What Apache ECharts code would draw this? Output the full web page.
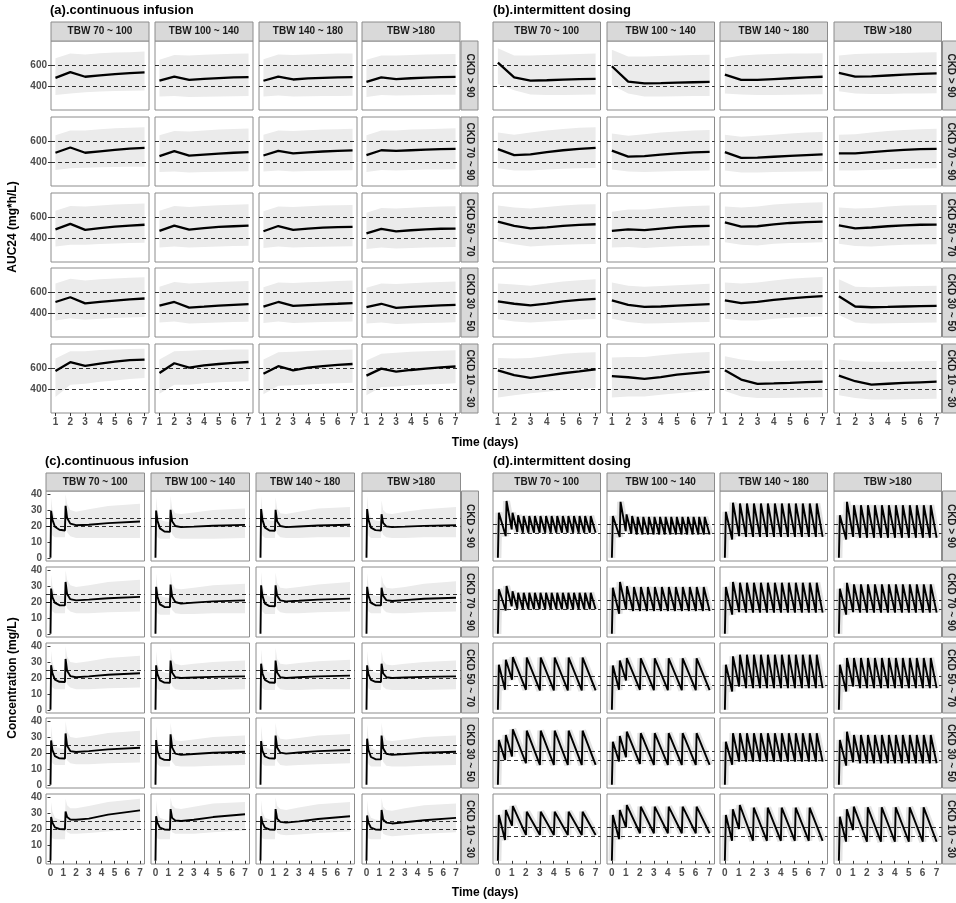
<!DOCTYPE html>
<html>
<head>
<meta charset="utf-8">
<script src="https://cdn.jsdelivr.net/npm/echarts@6/dist/echarts.min.js"></script>
<style>
  html, body { margin: 0; padding: 0; background: #fff; }
  #chart { width: 956px; height: 903px; }
</style>
</head>
<body>
<div id="chart"></div>
<script>
// facet labels
const TBW = ['TBW 70 ~ 100', 'TBW 100 ~ 140', 'TBW 140 ~ 180', 'TBW >180'];
const CKD = ['CKD > 90', 'CKD 70 ~ 90', 'CKD 50 ~ 70', 'CKD 30 ~ 50', 'CKD 10 ~ 30'];

// ---- AUC24 panels (a) and (b): rows = CKD, cols = TBW ----
const AUC_DAYS = [1, 2, 3, 4, 5, 6, 7];
const AUC_X_TICKS = [1, 2, 3, 4, 5, 6, 7];
const AUC_Y_TICKS = [400, 600];
const AUC_TARGET = [400, 600];

const AUC_A_MED = [
  [[478,532,488,502,514,523,530], [452,490,458,468,476,482,485], [450,490,462,472,478,482,484], [440,482,466,474,480,484,486]],
  [[488,538,488,502,515,528,535], [456,503,460,470,480,488,495], [462,505,482,492,500,506,510], [465,512,505,512,518,523,525]],
  [[482,534,478,495,508,518,526], [468,518,480,495,505,512,518], [464,514,478,490,498,503,506], [444,486,464,474,482,488,490]],
  [[505,550,492,505,518,530,538], [470,505,452,460,470,478,485], [460,505,468,475,482,488,495], [455,488,448,458,466,472,478]],
  [[572,655,620,642,660,675,680], [552,645,603,625,638,648,657], [545,617,578,603,617,629,638], [527,594,565,581,594,606,614]]
];
const AUC_A_LO = [
  [[315,330,340,348,352,355,357], [300,305,295,298,300,302,305], [300,310,300,302,305,306,308], [295,315,310,312,315,316,318]],
  [[325,340,345,350,353,355,356], [305,310,300,305,308,310,312], [310,320,310,315,318,320,322], [305,325,320,325,328,330,332]],
  [[320,335,335,342,348,352,355], [310,320,310,315,320,324,326], [305,320,310,314,318,320,322], [295,310,300,305,310,312,315]],
  [[330,350,335,345,352,358,362], [310,320,300,305,310,314,318], [305,320,305,310,315,318,320], [300,310,295,300,305,308,312]],
  [[325,440,450,470,482,495,505], [355,440,440,455,465,470,475], [350,430,435,442,450,455,460], [340,420,425,435,442,448,455]]
];
const AUC_A_HI = [
  [[665,710,700,712,718,722,727], [650,695,690,698,703,707,710], [655,700,695,700,705,708,710], [650,690,690,695,700,702,705]],
  [[655,700,700,712,720,726,731], [655,695,690,700,708,713,718], [660,700,695,702,708,712,716], [655,700,700,708,712,716,720]],
  [[660,705,700,710,718,724,728], [660,705,695,705,712,716,720], [655,700,695,702,708,712,715], [640,685,680,688,695,700,702]],
  [[680,725,710,720,728,735,740], [650,695,680,688,695,700,705], [645,690,685,692,698,704,708], [640,680,675,682,690,695,700]],
  [[690,760,760,770,775,780,782], [680,760,765,770,772,775,775], [680,750,755,762,768,772,775], [670,735,745,755,760,765,768]]
];

const AUC_B_MED = [
  [[622,483,452,455,460,465,468], [588,442,425,428,432,436,440], [508,458,458,466,474,482,488], [525,490,492,500,508,515,520]],
  [[522,466,472,495,512,524,534], [508,452,456,470,482,492,497], [494,440,442,450,458,466,472], [482,482,495,505,515,522,525]],
  [[556,516,492,502,515,525,531], [468,482,476,490,503,512,516], [548,508,512,530,543,552,556], [520,492,500,512,520,526,528]],
  [[510,488,472,490,510,525,535], [520,478,458,462,470,478,485], [520,495,505,525,540,552,560], [560,462,455,458,462,465,468]],
  [[578,532,505,528,550,568,588], [522,512,496,514,536,552,565], [578,490,448,453,459,466,470], [527,474,442,450,458,464,470]]
];
const AUC_B_LO = [
  [[420,360,320,315,315,318,320], [410,330,300,300,302,304,305], [330,320,315,315,318,320,322], [350,330,325,325,328,330,332]],
  [[340,320,320,330,335,340,342], [330,310,305,310,315,318,320], [320,300,300,305,308,310,312], [320,320,325,330,335,338,340]],
  [[370,340,320,328,335,340,342], [310,315,305,315,322,326,330], [360,335,330,345,352,356,360], [345,325,320,330,335,338,340]],
  [[340,320,310,320,330,338,342], [345,315,300,302,308,312,315], [345,330,330,345,355,362,368], [380,310,300,302,305,308,310]],
  [[320,340,360,375,390,400,410], [320,330,330,345,360,375,390], [380,330,315,315,318,320,322], [340,315,300,300,302,305,308]]
];
const AUC_B_HI = [
  [[760,690,690,695,700,705,710], [745,680,680,685,690,695,698], [665,690,700,705,708,710,712], [690,705,710,712,715,718,720]],
  [[680,660,680,700,715,725,730], [670,650,665,680,690,700,705], [660,640,650,660,670,680,685], [660,665,680,695,705,712,716]],
  [[710,690,680,695,710,718,722], [650,670,670,685,698,705,710], [700,690,700,718,728,735,740], [690,680,685,700,708,712,715]],
  [[680,670,660,680,700,712,720], [690,660,650,658,665,672,678], [690,680,690,710,725,735,742], [720,650,645,650,655,658,660]],
  [[695,690,695,715,735,745,750], [700,705,705,720,735,745,752], [712,680,665,665,668,670,672], [680,665,660,660,662,664,666]]
];

// ---- concentration panels ----
const CONC_X_TICKS = [0, 1, 2, 3, 4, 5, 6, 7];
const CONC_Y_TICKS = [0, 10, 20, 30, 40];
const CONC_C_TARGET = [20, 25];
const CONC_D_TARGET = [15, 20];

// (c) continuous infusion, read at these times (days)
const CONC_T = [0, 0.05, 0.15, 0.35, 0.7, 1.13, 1.18, 1.3, 1.55, 2, 3, 4.5, 7];
const CONC_C_MED = [
  [[0,29.5,24,19.5,17.6,17.2,32.7,25,21.5,20.5,20.8,21.8,22.8], [0,29.7,23.5,18.5,16.5,16.3,30.2,23,20,19.3,19.6,20.2,20.7],
   [0,30.6,24,19,17.2,17,30.2,23,20,19.3,19.7,20.3,20.8], [0,30.6,24,19,17.4,17.2,27.4,22,19.8,19.3,19.6,20.1,20.5]],
  [[0,28.4,23,19.5,18,17.9,32.6,25,21.8,21,21.5,22.4,23.2], [0,29.5,23.5,18.5,16.9,16.8,31,23.5,20,19,19.6,20.4,21],
   [0,30.5,24,19,17.4,17.3,30.5,24,21,20.4,20.8,21.5,22.1], [0,29.5,24,19.5,18,17.9,29,24,21.2,20.6,21.2,22,22.7]],
  [[0,28,23,19,17.6,17.5,32,24.5,21.2,20.5,21,22,23], [0,28,22.5,18.5,17.1,17,31,23.5,20.5,20,20.3,20.7,21],
   [0,29,23,18.8,17.2,17,31,23.5,20.5,20,20.5,21,21.5], [0,28,22.5,18.8,17.6,17.5,29,23,20.5,20,20.3,20.7,21]],
  [[0,27.9,22,18,16.6,16.5,32.3,24.5,21.2,20.6,21.2,22.3,23.3], [0,28.1,21.5,17,15.7,15.6,31.7,23.5,19.6,18.8,19.4,20.2,20.8],
   [0,27.5,21.5,17.8,16.6,16.5,31,23.5,20.2,19.6,20.3,21.2,21.9], [0,29,22,17.5,16.1,16,31,23,19.5,18.8,19.4,20.2,20.8]],
  [[0,27.5,24,21,20,19.8,31,27.5,26,25.8,26.5,29,31.7], [0,28,24,20.8,19.7,19.5,32.5,27,25.3,25,25.8,27.5,29.3],
   [0,28,24,20.8,19.7,19.5,32.5,26.5,24.5,24,24.8,26.3,28], [0,28.5,24,20.8,19.7,19.5,32,26,24,23.5,24.2,25.5,27]]
];
const CONC_C_LO = [
  [[0,17,14,13,13,13,20,16,13.5,12.5,12.5,12.5,12.5], [0,17,13,12,12,12,19,15,12.5,12,12,12,12.5],
   [0,18,14,12.5,12.5,12.5,19,15,13,12.5,12.5,13,13], [0,18,14,12.5,12.5,12.5,17,14.5,13,12.5,12.5,13,13]],
  [[0,16.5,14,13,13,13,20,16,14,13,13,13.5,14], [0,17,13,12,12,12,19,15,13,12.5,12.5,13,13],
   [0,18,14,12.5,12.5,12.5,19,15.5,13.5,13,13,13.5,14], [0,17.5,14,13,13,13,18,15.5,13.5,13,13,13.5,14]],
  [[0,16.5,14,13,13,13,20,16,14,13,13,13.5,14], [0,16.5,13,12.5,12.5,12.5,19,15,13,12.5,12.5,12.5,13],
   [0,17,13.5,12.5,12.5,12.5,19,15,13,12.5,12.5,13,13], [0,16.5,13.5,12.5,12.5,12.5,17.5,14.5,13,12.5,12.5,12.5,13]],
  [[0,16.5,13.5,12.5,12.5,12.5,20,15.5,13.5,13,13,13.5,14], [0,16.5,13,11.5,11.5,11.5,19,14.5,12,11.5,11.5,12,12.5],
   [0,16.5,13,12,12,12,19,15,12.5,12,12.5,13,13.5], [0,17,13,11.5,11.5,11.5,19,14.5,12,11.5,11.5,12,12.5]],
  [[0,16.5,14,13.5,13.5,13.5,20,18,17,17,17.5,18.5,20], [0,17,14,13.5,13.5,13.5,21,18,17,17,17,18,19],
   [0,17,14,13.5,13.5,13.5,21,17.5,16.5,16,16.5,17.5,18.5], [0,17,14,13.5,13.5,13.5,20.5,17,16,15.5,16,17,18]]
];
const CONC_C_HI = [
  [[0,38,30,25,24,23.5,40,34,30,29,30.5,32.5,34], [0,38,30,24,23,22.5,39,31,28,27.5,28.5,30,31],
   [0,39,30,25,23.5,23,38,31,28,27.5,29,31,32], [0,39,30,25,23.5,23,36,30,28,27.5,29,30.5,32]],
  [[0,37,30,25,24,23.5,40,34,30.5,29.5,30.5,32.5,34], [0,38,30,24,23,22.5,39,31.5,28.5,28,29,30.5,31.5],
   [0,39,30.5,25,23.5,23,38.5,32,29,28.5,29.5,31,32.5], [0,38,30.5,25,24,23.5,37,32,29,28.5,29.5,31.5,33]],
  [[0,37,30,25,24,23.5,40,33.5,30,29.5,30.5,32.5,34], [0,37,29.5,24.5,23.5,23,39,32,29,28,29,30,31],
   [0,38,30,24.5,23.5,23,39,32,29,28.5,29.5,30.5,31.5], [0,37,30,24.5,23.5,23,37,31,28.5,28,29,30,31]],
  [[0,37,29,24,23,22.5,40,33.5,30,29.5,30.5,32.5,34], [0,37,29,23,22,21.5,39,31.5,28,27.5,28.5,30,31],
   [0,37,29,24,22.5,22,39,32,29,28.5,29.5,31,32], [0,38,29.5,23.5,22,21.5,39,31.5,28,27.5,28.5,30,31]],
  [[0,37,31,27,26,25.5,39,35,33,33,34.5,37,39], [0,38,31,27,26,25.5,40,35,33,32.5,34,36,37],
   [0,38,31,27,26,25.5,40,34.5,32.5,32,33.5,35.5,37], [0,38,31,27,26,25.5,39.5,34,32,31.5,33,35,36]]
];

// (d) intermittent dosing: time of each peak (days) per regimen, and the peak / following trough values
const DOSE_T = {
  A: [0.07,0.62,1.05,1.45,1.85,2.25,2.65,3.05,3.45,3.85,4.25,4.65,5.05,5.45,5.85,6.25,6.65],
  B: [0.07,0.58,1.08,1.58,2.08,2.58,3.08,3.58,4.08,4.58,5.08,5.58,6.08,6.58],
  C: [0.07,0.57,1.07,2.07,3.07,4.07,5.07,6.07]
};
const CONC_D_SCHED = [['A','A','B','B'], ['A','B','B','B'], ['C','C','B','B'], ['C','C','B','B'], ['C','C','C','C']];
const CONC_D_PEAK = [
  [[27,34,27,25.5,25,25,25,25,25,25,25,25,25,25,25,25,25],
   [25,33.5,26,25,24.5,24.5,24.5,24.5,24.5,24.5,24.5,24.5,24.5,24.5,24.5,24.5,24.5],
   [27.5,33,32.5,32.5,32.5,32.5,32.5,32.5,32.5,32.5,32.5,32.5,32.5,32.5],
   [25.5,33.5,31.5,31.5,31.5,31.5,31.5,31.5,31.5,31.5,31.5,31.5,31.5,31.5]],
  [[26.7,28.6,25.5,24.6,24.6,24.6,24.6,24.6,24.6,24.6,24.6,24.6,24.6,24.6,24.6,24.6,24.6],
   [27.6,31,28.5,28,28,28,28,28,28,28,28,28,28,28],
   [28,31,30.6,30.6,30.6,30.6,30.6,30.6,30.6,30.6,30.6,30.6,30.6,30.6],
   [27,30.5,29.6,29.6,29.6,29.6,29.6,29.6,29.6,29.6,29.6,29.6,29.6,29.6]],
  [[27,30,31.5,31.3,31.3,31.3,31.3,31.3],
   [26.5,29.5,31,30.8,30.8,30.8,30.8,30.8],
   [27,32,33,33,33,33,33,33,33,33,33,33,33,33],
   [27,31,31,31,31,31,31,31,31,31,31,31,31,31]],
  [[26.8,29.8,33.2,32.4,32.4,32.4,32.4,32.4],
   [25.8,29.2,31.8,30.9,30.9,30.9,30.9,30.9],
   [25.8,30.9,30.9,30.9,30.9,30.9,30.9,30.9,30.9,30.9,30.9,30.9,30.9,30.9],
   [26.8,31.8,29.8,29.8,29.8,29.8,29.8,29.8,29.8,29.8,29.8,29.8,29.8,29.8]],
  [[27.4,30.4,32.8,29.4,29.4,29.4,29.4,29.4],
   [27.4,30.4,33.4,32.4,32.4,32.4,32.4,32.4],
   [27.4,30.8,33.4,31.8,31.8,31.8,31.8,31.8],
   [26.4,30.8,32.4,32,32,32,32,32]]
];
const CONC_D_TROUGH = [
  [[13,17,15.5,15,15,15,15,15,15,15,15,15,15,15,15,15,15],
   [12.5,16,14.5,14,14,14,14,14,14,14,14,14,14,14,14,14,14],
   [11,13,12.5,12.5,12.5,12.5,12.5,12.5,12.5,12.5,12.5,12.5,12.5,12.5],
   [11,12.5,12,12,12,12,12,12,12,12,12,12,12,12]],
  [[14,16.5,15,14.7,14.7,14.7,14.7,14.7,14.7,14.7,14.7,14.7,14.7,14.7,14.7,14.7,14.7],
   [12,14.5,13.7,13.7,13.7,13.7,13.7,13.7,13.7,13.7,13.7,13.7,13.7,13.7],
   [11.5,13,12.7,12.7,12.7,12.7,12.7,12.7,12.7,12.7,12.7,12.7,12.7,12.7],
   [11.5,13,12.7,12.7,12.7,12.7,12.7,12.7,12.7,12.7,12.7,12.7,12.7,12.7]],
  [[12,18,12,11.6,11.6,11.6,11.6,11.6],
   [12,17.5,12,11.8,11.8,11.8,11.8,11.8],
   [11,14,13,13,13,13,13,13,13,13,13,13,13,13],
   [11,14,13,13,13,13,13,13,13,13,13,13,13,13]],
  [[14.9,16.9,12.9,11.9,11.9,11.9,11.9,11.9],
   [14,16.5,12.5,11.9,11.9,11.9,11.9,11.9],
   [12,13.9,13.9,13.9,13.9,13.9,13.9,13.9,13.9,13.9,13.9,13.9,13.9,13.9],
   [11.5,13.5,12.9,12.9,12.9,12.9,12.9,12.9,12.9,12.9,12.9,12.9,12.9,12.9]],
  [[12.5,21,15.5,15.5,15.5,15.5,15.5,15.5],
   [13,20,16.5,16.5,16.5,16.5,16.5,16.5],
   [12,19,12,12,12,12,12,12],
   [11.5,18.5,11.4,11.4,11.4,11.4,11.4,11.4]]
];

// ---- layout ----
const FONT = '"Liberation Sans", Arial, sans-serif';
const ROWS_TOP = [41, 117, 193, 268, 344];
const ROWS_BOT = [491, 567, 643, 718, 794];
const FIGS = [
  { title: '(a).continuous infusion', tx: 50, ty: 12, lefts: [51, 155, 259, 362], w: 98, tops: ROWS_TOP, h: 69, stripY: 22, yLab: true },
  { title: '(b).intermittent dosing', tx: 493, ty: 12, lefts: [493, 607, 720, 834], w: 107.5, tops: ROWS_TOP, h: 69, stripY: 22, yLab: false },
  { title: '(c).continuous infusion', tx: 45, ty: 463, lefts: [46, 151, 256, 362], w: 98.5, tops: ROWS_BOT, h: 70, stripY: 473, yLab: true },
  { title: '(d).intermittent dosing', tx: 493, ty: 463, lefts: [493, 607, 720, 834], w: 107.5, tops: ROWS_BOT, h: 70, stripY: 473, yLab: false }
];

const grids = [], xAxes = [], yAxes = [], series = [], graphics = [];

function addPanel(fig, r, c, xr, yr, xt, yt) {
  const i = grids.length;
  grids.push({ left: fig.lefts[c], top: fig.tops[r], width: fig.w, height: fig.h, show: true,
    backgroundColor: '#fff', borderColor: '#8c8c8c', borderWidth: 1 });
  const lab = { color: '#4d4d4d', fontWeight: 'bold', fontSize: 10, fontFamily: FONT };
  const showX = r === 4, showY = fig.yLab && c === 0;
  xAxes.push({ gridIndex: i, type: 'value', min: xr[0], max: xr[1],
    axisLine: { show: false }, splitLine: { show: false },
    axisTick: { show: showX, length: 3, customValues: xt, lineStyle: { color: '#333' } },
    axisLabel: Object.assign({ show: showX, margin: 4, customValues: xt }, lab) });
  yAxes.push({ gridIndex: i, type: 'value', min: yr[0], max: yr[1],
    axisLine: { show: false }, splitLine: { show: false },
    axisTick: { show: showY, length: 3, customValues: yt, lineStyle: { color: '#333' } },
    axisLabel: Object.assign({ show: showY, margin: 4, customValues: yt }, lab) });
  return i;
}

function targetLines(vals) {
  return { silent: true, symbol: 'none', label: { show: false }, animation: false,
    lineStyle: { type: [4, 3], color: '#000', width: 0.8 },
    data: vals.map(v => ({ yAxis: v })) };
}

// grey interval band: one polygon through the lower points and back along the upper points
function bandSeries(i, xs, lo, hi) {
  series.push({
    type: 'custom', coordinateSystem: 'cartesian2d', xAxisIndex: i, yAxisIndex: i, silent: true,
    data: xs.map((x, k) => [x, lo[k], hi[k]]),
    encode: { x: 0, y: [1, 2] },
    renderItem: (params, api) => {
      if (params.dataIndex !== 0) return null;
      const pts = [];
      xs.forEach((x, k) => pts.push(api.coord([x, lo[k]])));
      for (let k = xs.length - 1; k >= 0; k--) pts.push(api.coord([xs[k], hi[k]]));
      return { type: 'polygon', shape: { points: pts }, style: { fill: '#ebebeb', stroke: null } };
    }
  });
}

// (a), (b)
[[FIGS[0], AUC_A_MED, AUC_A_LO, AUC_A_HI], [FIGS[1], AUC_B_MED, AUC_B_LO, AUC_B_HI]].forEach(([fig, med, lo, hi]) => {
  for (let r = 0; r < 5; r++) for (let c = 0; c < 4; c++) {
    const i = addPanel(fig, r, c, [0.7, 7.3], [172, 828], AUC_X_TICKS, AUC_Y_TICKS);
    bandSeries(i, AUC_DAYS, lo[r][c], hi[r][c]);
    series.push({ type: 'line', xAxisIndex: i, yAxisIndex: i, symbol: 'none', silent: true,
      lineStyle: { color: '#000', width: 2.3 }, data: AUC_DAYS.map((d, k) => [d, med[r][c][k]]),
      markLine: targetLines(AUC_TARGET) });
  }
});

// (c)
for (let r = 0; r < 5; r++) for (let c = 0; c < 4; c++) {
  const i = addPanel(FIGS[2], r, c, [-0.35, 7.35], [-2, 42], CONC_X_TICKS, CONC_Y_TICKS);
  bandSeries(i, CONC_T, CONC_C_LO[r][c], CONC_C_HI[r][c]);
  series.push({ type: 'line', xAxisIndex: i, yAxisIndex: i, symbol: 'none', silent: true,
    lineStyle: { color: '#000', width: 1.9 }, data: CONC_T.map((t, k) => [t, CONC_C_MED[r][c][k]]),
    markLine: targetLines(CONC_C_TARGET) });
}

// (d)
for (let r = 0; r < 5; r++) for (let c = 0; c < 4; c++) {
  const i = addPanel(FIGS[3], r, c, [-0.35, 7.35], [-1.9, 40], CONC_X_TICKS, CONC_Y_TICKS);
  const T = DOSE_T[CONC_D_SCHED[r][c]], pk = CONC_D_PEAK[r][c], tr = CONC_D_TROUGH[r][c];
  const pts = [[0, 0]];
  T.forEach((t, k) => {
    pts.push([t, pk[k]]);
    pts.push([k < T.length - 1 ? T[k + 1] - 0.06 : 7, tr[k]]);
  });
  series.push({ type: 'line', xAxisIndex: i, yAxisIndex: i, symbol: 'none', silent: true,
    lineStyle: { color: '#e4e4e4', width: 7 }, data: pts });
  series.push({ type: 'line', xAxisIndex: i, yAxisIndex: i, symbol: 'none', silent: true,
    lineStyle: { color: '#000', width: 1.9 }, data: pts, markLine: targetLines(CONC_D_TARGET) });
}

// strips and titles
FIGS.forEach(fig => {
  graphics.push({ type: 'text', left: fig.tx, top: fig.ty - 8,
    style: { text: fig.title, font: 'bold 13px ' + FONT, fill: '#000' } });
  fig.lefts.forEach((l, c) => {
    graphics.push({ type: 'rect', shape: { x: l, y: fig.stripY, width: fig.w, height: fig.tops[0] - fig.stripY },
      style: { fill: '#d9d9d9', stroke: '#8c8c8c', lineWidth: 1 } });
    graphics.push({ type: 'text', x: l + fig.w / 2, y: fig.stripY + (fig.tops[0] - fig.stripY) / 2,
      style: { text: TBW[c], font: 'bold 10px ' + FONT, fill: '#1a1a1a', textAlign: 'center', textVerticalAlign: 'middle' } });
  });
  const sx = fig.lefts[3] + fig.w + 1;
  fig.tops.forEach((t, r) => {
    graphics.push({ type: 'rect', shape: { x: sx, y: t, width: 17, height: fig.h },
      style: { fill: '#d9d9d9', stroke: '#8c8c8c', lineWidth: 1 } });
    graphics.push({ type: 'text', x: sx + 8.5, y: t + fig.h / 2, rotation: -Math.PI / 2,
      style: { text: CKD[r], font: 'bold 10px ' + FONT, fill: '#1a1a1a', textAlign: 'center', textVerticalAlign: 'middle' } });
  });
});

// axis titles
[['Time (days)', 485, 443, 0], ['Time (days)', 485, 893, 0],
 ['AUC24 (mg*h/L)', 13, 227, Math.PI / 2], ['Concentration (mg/L)', 13, 678, Math.PI / 2]].forEach(([txt, x, y, rot]) => {
  graphics.push({ type: 'text', x: x, y: y, rotation: rot,
    style: { text: txt, font: 'bold 12px ' + FONT, fill: '#000', textAlign: 'center', textVerticalAlign: 'middle' } });
});

const chart = echarts.init(document.getElementById('chart'), null, { renderer: 'canvas' });
chart.setOption({
  animation: false,
  backgroundColor: '#fff',
  grid: grids,
  xAxis: xAxes,
  yAxis: yAxes,
  series: series,
  graphic: { elements: graphics }
});
</script>
</body>
</html>
